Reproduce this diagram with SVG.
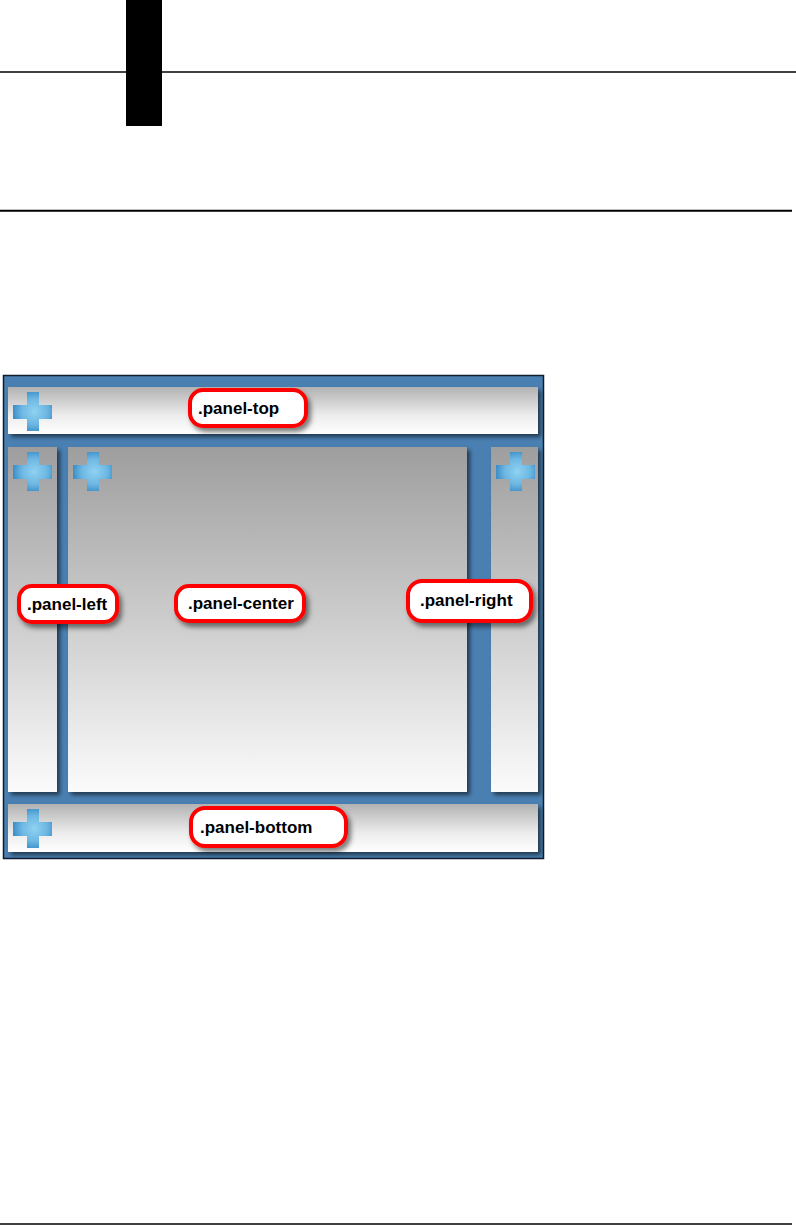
<svg xmlns="http://www.w3.org/2000/svg" width="796" height="1225" viewBox="0 0 796 1225">
  <style>
    .lbl { fill: #ffffff; stroke: #ff0000; stroke-width: 4; }
    .txt { font-family: "Liberation Sans", Arial, sans-serif; font-weight: bold; font-size: 17px; fill: #000000; }
  </style>
  <defs>
    <linearGradient id="gSide" x1="0" y1="0" x2="0" y2="1">
      <stop offset="0" stop-color="#9e9e9e"/>
      <stop offset="1" stop-color="#fbfbfb"/>
    </linearGradient>
    <linearGradient id="gBar" x1="0" y1="0" x2="0" y2="1">
      <stop offset="0" stop-color="#b2b2b2"/>
      <stop offset="0.6" stop-color="#ececec"/>
      <stop offset="1" stop-color="#ffffff"/>
    </linearGradient>
    <radialGradient id="gPlus" cx="0.55" cy="0.5" r="0.55">
      <stop offset="0" stop-color="#8fd2f2"/>
      <stop offset="0.6" stop-color="#6db7e2"/>
      <stop offset="1" stop-color="#3d8ec8"/>
    </radialGradient>
    <filter id="sh" x="-10%" y="-10%" width="130%" height="130%">
      <feDropShadow dx="3" dy="3" stdDeviation="2" flood-color="#000" flood-opacity="0.55"/>
    </filter>
    <filter id="shl" x="-20%" y="-30%" width="150%" height="170%">
      <feDropShadow dx="3" dy="4" stdDeviation="2.5" flood-color="#000" flood-opacity="0.5"/>
    </filter>
    <filter id="soft">
      <feGaussianBlur stdDeviation="0.7"/>
    </filter>
    <path id="plus" d="M14,0 h12 v13 h13 v14 h-13 v12 h-12 v-12 h-14 v-14 h14 z"/>
  </defs>

  <g id="page-lines">
    <line x1="0" y1="72" x2="796" y2="72" stroke="#000" stroke-width="1.3"/>
    <rect x="126" y="0" width="36" height="126" fill="#000"/>
    <line x1="0" y1="210.8" x2="792" y2="210.8" stroke="#000" stroke-width="2"/>
    <line x1="0" y1="1224" x2="792" y2="1224" stroke="#000" stroke-width="1.6"/>
  </g>

  <g id="frame">
    <rect x="3.5" y="375.5" width="540" height="483" fill="#4a7fb1" stroke="#0e1c2c" stroke-width="1.5"/>
  </g>

  <g id="panel-top">
    <rect x="8" y="387" width="530" height="47" fill="url(#gBar)" filter="url(#sh)"/>
    <use href="#plus" x="13" y="392" fill="url(#gPlus)" filter="url(#soft)"/>
  </g>
  <g id="panel-left">
    <rect x="8" y="447" width="49" height="345" fill="url(#gSide)" filter="url(#sh)"/>
    <use href="#plus" x="13" y="452" fill="url(#gPlus)" filter="url(#soft)"/>
  </g>
  <g id="panel-center">
    <rect x="68" y="447" width="399" height="345" fill="url(#gSide)" filter="url(#sh)"/>
    <use href="#plus" x="73" y="452" fill="url(#gPlus)" filter="url(#soft)"/>
  </g>
  <g id="panel-right">
    <rect x="491" y="447" width="47" height="345" fill="url(#gSide)" filter="url(#sh)"/>
    <use href="#plus" x="496" y="452" fill="url(#gPlus)" filter="url(#soft)"/>
  </g>
  <g id="panel-bottom">
    <rect x="8" y="804" width="530" height="48" fill="url(#gBar)" filter="url(#sh)"/>
    <use href="#plus" x="13" y="809" fill="url(#gPlus)" filter="url(#soft)"/>
  </g>

  <g id="label-top">
    <rect class="lbl" x="190" y="390" width="116" height="36" rx="13" filter="url(#shl)"/>
    <text class="txt" x="198" y="414">.panel-top</text>
  </g>
  <g id="label-left">
    <rect class="lbl" x="19" y="586" width="98" height="36" rx="13" filter="url(#shl)"/>
    <text class="txt" x="27" y="610">.panel-left</text>
  </g>
  <g id="label-center">
    <rect class="lbl" x="176" y="586" width="128" height="35" rx="13" filter="url(#shl)"/>
    <text class="txt" x="188" y="609">.panel-center</text>
  </g>
  <g id="label-right">
    <rect class="lbl" x="408" y="581" width="123" height="40" rx="14" filter="url(#shl)"/>
    <text class="txt" x="420" y="606">.panel-right</text>
  </g>
  <g id="label-bottom">
    <rect class="lbl" x="191" y="808" width="155" height="38" rx="14" filter="url(#shl)"/>
    <text class="txt" x="200" y="833">.panel-bottom</text>
  </g>
</svg>
